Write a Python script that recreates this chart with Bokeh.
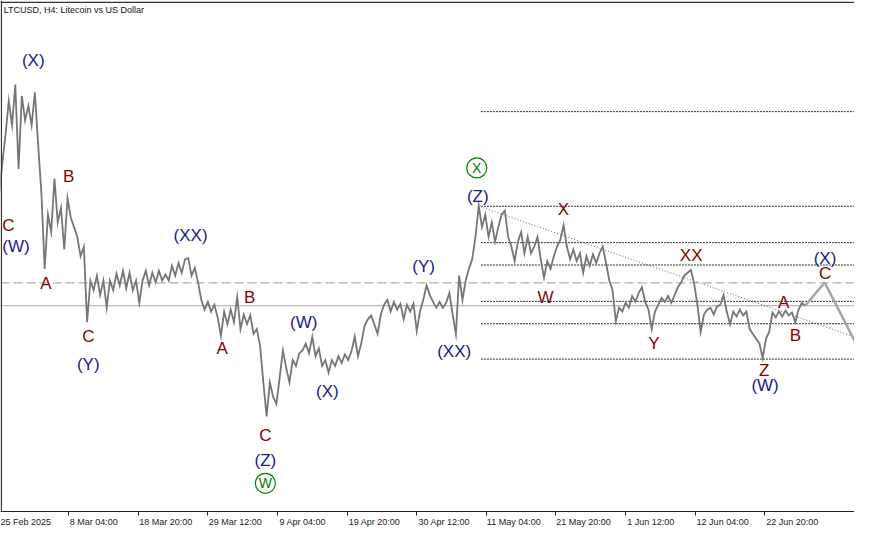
from bokeh.plotting import figure
from bokeh.models import Range1d, FixedTicker, LinearAxis, Span
from bokeh.core.properties import value
from bokeh.embed import file_html
from bokeh.resources import INLINE

title = "LTCUSD, H4:  Litecoin vs US Dollar"

tick_labels = ["25 Feb 2025", "8 Mar 04:00", "18 Mar 20:00", "29 Mar 12:00",
               "9 Apr 04:00", "19 Apr 20:00", "30 Apr 12:00", "11 May 04:00",
               "21 May 20:00", "1 Jun 12:00", "12 Jun 04:00", "22 Jun 20:00"]

# LTCUSD price path, one value every 3 H4 bars
close = [
    111.4, 118, 124, 131, 126, 134.4, 117, 132, 127, 130,
    126, 132.8, 122, 112, 96.4, 107.6, 104, 115, 106, 109,
    100.4, 111, 107, 105, 103, 99, 101, 85.4, 94, 92,
    95, 91, 94, 88.4, 94, 92, 95.4, 93, 96, 92.4,
    95.6, 92, 94, 89.4, 94, 96, 93, 95.6, 93.6, 96,
    94, 95.2, 94, 97, 95, 97.6, 95.6, 98.4, 98.6, 95,
    96.6, 93.6, 90, 88, 89.6, 87.6, 89, 86.4, 82.6, 87.6,
    85, 88, 85.4, 90.6, 84, 87, 85, 86.8, 83, 84,
    80.6, 73, 66, 73, 70, 68.6, 74, 79.6, 76, 73,
    77.6, 76.4, 79, 79.6, 81, 79, 82.4, 78.4, 80, 76.4,
    77.6, 75, 77.6, 76.4, 78.4, 77, 78.8, 77.6, 79.4, 82.4,
    78.4, 81, 84.6, 86, 86.8, 85, 83, 87, 89, 90,
    87.6, 89.6, 88, 89.2, 86, 89, 87.6, 89.2, 83.6, 87.6,
    90, 93, 91, 89.6, 88.4, 89.6, 88.4, 89.4, 91.4, 87,
    83, 95, 90, 94, 96.4, 98.4, 103, 109.4, 105, 107.6,
    103, 106, 102, 105, 107.6, 108.4, 103, 101, 98, 102,
    104, 99.6, 103, 99.6, 101, 103, 98.4, 94.6, 98, 96.4,
    99, 101, 102.4, 105.4, 101, 98.4, 100.4, 98, 99.6, 95.6,
    99, 97, 99.4, 97.6, 99.6, 101, 97.6, 94, 92, 85.6,
    88.4, 87.6, 89.4, 88.4, 90.8, 89.6, 91.4, 92.6, 89.6, 88,
    84, 87.6, 89, 90.4, 89.6, 90.8, 89.4, 91, 92.6, 93.6,
    95, 95.6, 96.2, 93.4, 89, 83.4, 87, 88, 88.4, 87,
    88.6, 89, 91, 87.6, 85, 87.6, 86.6, 88, 86.8, 87.6,
    84, 83, 82, 81, 78, 82, 83.4, 87.4, 86.4, 87.6,
    86.6, 87.8, 86.8, 87.4, 85.4, 88, 89.4, 88.8,
]
bar_step = 3
bars = [i * bar_step for i in range(len(close))]

last_price = 88.8
green_level = 93.5
fib_levels = [128.8, 109.3, 101.8, 97.2, 89.7, 85.1, 77.8]
fib_start = 443
trend_bars = [440, 790]
trend_prices = [109.4, 82.1]
proj_bars = [741, 759, 790]
proj_prices = [88.8, 93.6, 80.0]

navy_text = ["(X)", "(Y)", "(XX)", "(W)", "(X)", "(Z)", "(Y)", "(XX)", "(Z)", "(X)", "(W)"]
navy_bar = [31.5, 82.1, 176.1, 280.1, 301.8, 244.9, 390.4, 418.4, 440.1, 759.3, 704.2]
navy_price = [139.4, 76.6, 103.2, 85.4, 71.2, 57.0, 96.8, 79.4, 111.4, 98.6, 72.4]

maroon_text = ["B", "A", "C", "B", "A", "C", "X", "W", "Y", "XX", "A", "B", "C", "Z"]
maroon_bar = [64.0, 43.2, 82.1, 230.4, 205.1, 244.9, 518.8, 502.5, 602.0, 636.3, 721.4, 732.2, 759.3, 703.3]
maroon_price = [115.4, 93.4, 82.4, 90.6, 80.0, 62.0, 108.6, 90.4, 81.0, 99.2, 89.4, 82.6, 95.4, 75.4]

# labels at the left edge
edge_text = ["C", "(W)"]
edge_bar = [3.0, 3.0]
edge_price = [105.4, 101.0]
edge_color = ["#8b0000", "#1a1a8a"]

circ_text = ["W", "X"]
circ_bar = [244.9, 439.2]
circ_price = [52.2, 117.2]

p = figure(width=854, height=529, output_backend="svg", toolbar_location=None,
           x_range=Range1d(1.4, 786.4), y_range=Range1d(46.4, 151.7),
           y_axis_location=None, min_border=0, min_border_left=0, min_border_right=0,
           min_border_top=0, min_border_bottom=0,
           background_fill_color="white", border_fill_color="white",
           outline_line_color=None)
p.xgrid.visible = False
p.ygrid.visible = False

tick_pos = [64 * i for i in range(1, len(tick_labels))]
ax = p.xaxis[0]
ax.ticker = FixedTicker(ticks=tick_pos)
ax.major_label_overrides = {t: "" for t in tick_pos}
ax.major_label_standoff = 0
ax.major_tick_out = 4
ax.major_tick_in = 0
ax.minor_tick_out = 0
ax.minor_tick_in = 0
ax.axis_line_color = "#222222"
ax.major_tick_line_color = "#222222"

centers = [round(64 * i + (1.5 + 2.2 * len(lbl)) / 1.106, 1) for i, lbl in enumerate(tick_labels)]
ax2 = LinearAxis(ticker=FixedTicker(ticks=centers),
                 major_label_overrides={c: l for c, l in zip(centers, tick_labels)},
                 axis_line_color=None, major_tick_line_color=None, minor_tick_line_color=None,
                 major_tick_out=0, major_tick_in=0,
                 major_label_text_font_size="9px", major_label_standoff=1,
                 major_label_text_font="Liberation Sans", major_label_text_color="#222222")
p.add_layout(ax2, "below")

# borders (top and left)
p.add_layout(Span(location=2.2, dimension="height", line_color="#333333", line_width=1.3))
p.add_layout(Span(location=151.3, dimension="width", line_color="#333333", line_width=1.3))

# reference lines
p.add_layout(Span(location=last_price, dimension="width", line_color="#a8a8a8", line_width=1, level="underlay"))
p.add_layout(Span(location=green_level, dimension="width", line_color="#93c493", line_width=1.3,
                  line_dash="9 4", level="underlay"))
p.segment(x0=[fib_start] * len(fib_levels), y0=fib_levels, x1=[790] * len(fib_levels), y1=fib_levels,
          line_color="#333333", line_width=1, line_dash="2 1")
p.line(trend_bars, trend_prices, line_color="#444444", line_width=0.8, line_dash="1 2")

# price
p.line(bars, close, line_color="#767676", line_width=1.8, line_join="miter")

# projection
p.line(proj_bars, proj_prices, line_color="#a4a4a4", line_width=2.5)

font = value("Liberation Sans")
p.text(x=navy_bar, y=navy_price, text=navy_text, text_font=font, text_font_size="17px",
       text_color="#1a1a8a", text_align="center", text_baseline="middle")
p.text(x=maroon_bar, y=maroon_price, text=maroon_text, text_font=font, text_font_size="17px",
       text_color="#8b0000", text_align="center", text_baseline="middle")
p.text(x=edge_bar, y=edge_price, text=edge_text, text_font=font, text_font_size="17px",
       text_color=edge_color, text_align="left", text_baseline="middle")
p.scatter(x=circ_bar, y=circ_price, size=20, marker="circle", fill_color=None,
          line_color="#008000", line_width=1.2)
p.text(x=circ_bar, y=circ_price, text=circ_text, text_font=font, text_font_size="14px",
       text_color="#008000", text_align="center", text_baseline="middle")

p.text(x=[4.3], y=[150.8], text=[title], text_font=font, text_font_size="9px",
       text_color="#111111", text_align="left", text_baseline="top")

open("out.html", "w").write(file_html(p, INLINE))
